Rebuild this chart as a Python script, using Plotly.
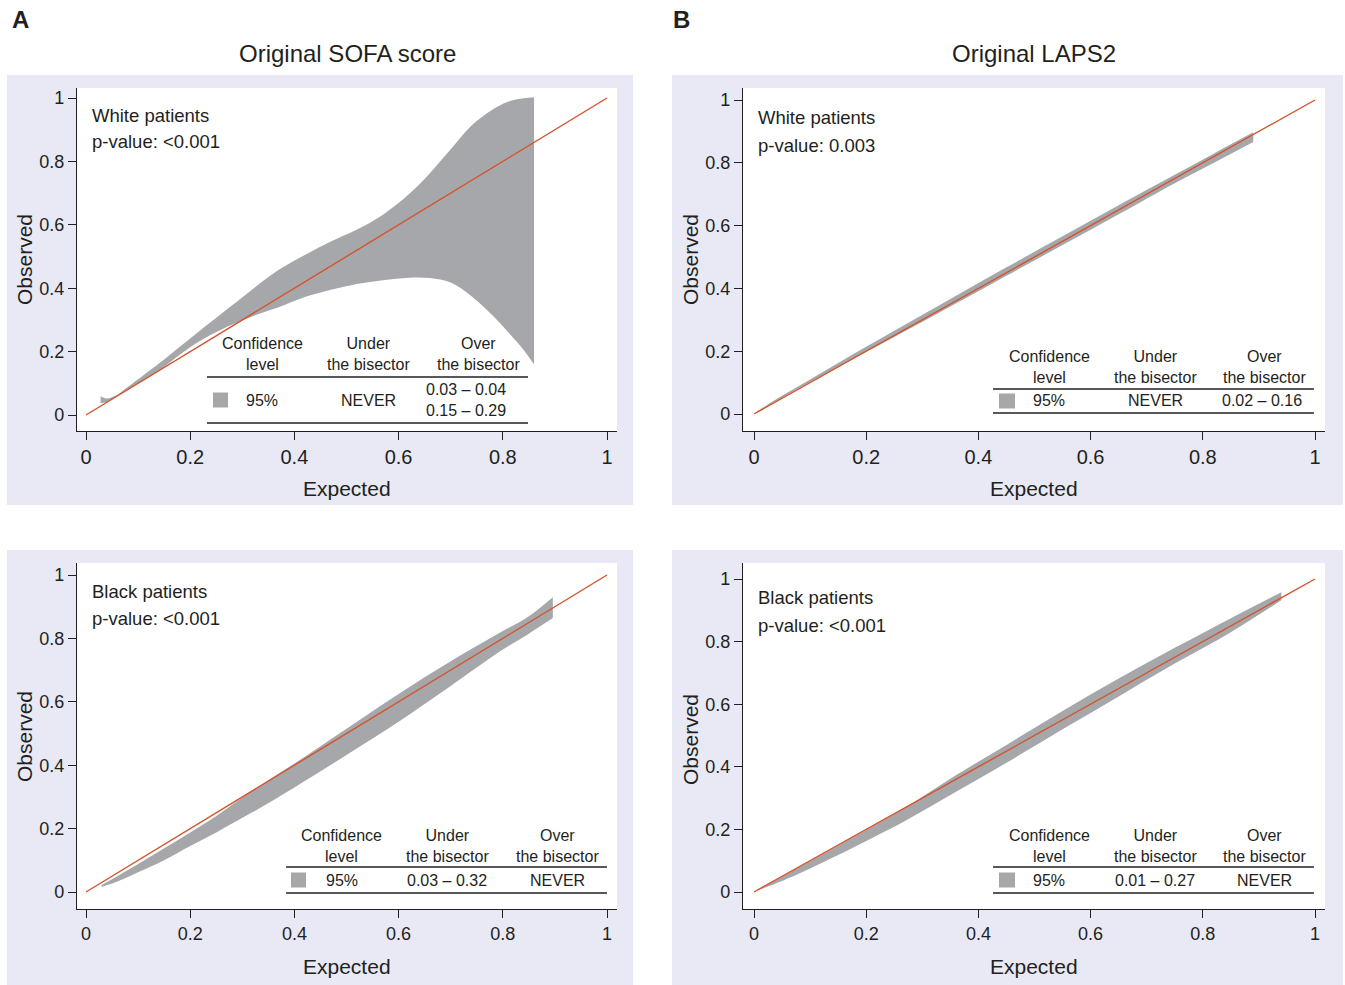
import plotly.graph_objects as go

W, H = 1345, 985
FONT = "Liberation Sans, Arial, Helvetica, sans-serif"
TXT = "#231f20"
LAV = "#e8e9f5"
BAND = "#a6a7aa"
LINE = "#d4532a"

# ---------------- data ----------------
tick_vals = [0, 0.2, 0.4, 0.6, 0.8, 1]
tick_text = ["0", "0.2", "0.4", "0.6", "0.8", "1"]
bisector_x = [0, 1]
bisector_y = [0, 1]

# A top: Original SOFA score, White patients
sofa_white_x = [0.028, 0.04, 0.06, 0.08, 0.10, 0.13, 0.15, 0.18, 0.21, 0.25, 0.29, 0.33, 0.37,
                0.42, 0.47, 0.52, 0.57, 0.62, 0.66, 0.70, 0.74, 0.78, 0.81, 0.84, 0.86]
sofa_white_upper = [0.059, 0.052, 0.064, 0.088, 0.113, 0.150, 0.175, 0.215, 0.255, 0.307, 0.358, 0.410, 0.458,
                    0.505, 0.547, 0.585, 0.632, 0.697, 0.763, 0.838, 0.913, 0.963, 0.988, 0.999, 1.002]
sofa_white_lower = [0.038, 0.041, 0.060, 0.080, 0.100, 0.130, 0.152, 0.190, 0.225, 0.262, 0.292, 0.318, 0.340,
                    0.372, 0.395, 0.413, 0.425, 0.433, 0.432, 0.418, 0.375, 0.315, 0.262, 0.205, 0.159]

# B top: Original LAPS2, White patients
laps_white_x = [0.005, 0.02, 0.05, 0.10, 0.16, 0.25, 0.35, 0.45, 0.55, 0.65, 0.75, 0.82, 0.89]
laps_white_upper = [0.008, 0.025, 0.058, 0.110, 0.173, 0.265, 0.366, 0.467, 0.566, 0.665, 0.762, 0.830, 0.897]
laps_white_lower = [0.005, 0.020, 0.052, 0.102, 0.160, 0.245, 0.342, 0.440, 0.538, 0.636, 0.735, 0.800, 0.866]

# A bottom: Original SOFA score, Black patients
sofa_black_x = [0.03, 0.06, 0.10, 0.15, 0.20, 0.25, 0.32, 0.40, 0.50, 0.60, 0.70, 0.80, 0.85, 0.896]
sofa_black_upper = [0.022, 0.050, 0.088, 0.138, 0.188, 0.240, 0.320, 0.405, 0.515, 0.625, 0.728, 0.823, 0.870, 0.930]
sofa_black_lower = [0.016, 0.033, 0.062, 0.100, 0.145, 0.188, 0.252, 0.330, 0.432, 0.537, 0.650, 0.765, 0.815, 0.864]

# B bottom: Original LAPS2, Black patients
laps_black_x = [0.005, 0.05, 0.10, 0.15, 0.20, 0.27, 0.35, 0.45, 0.55, 0.65, 0.75, 0.85, 0.94]
laps_black_upper = [0.005, 0.049, 0.098, 0.148, 0.198, 0.270, 0.362, 0.470, 0.578, 0.682, 0.780, 0.875, 0.958]
laps_black_lower = [0.004, 0.035, 0.075, 0.118, 0.163, 0.228, 0.310, 0.413, 0.520, 0.625, 0.730, 0.830, 0.932]

# ---------------- layout helpers ----------------
def px(x):
    return x / W

def py(y):
    return 1 - y / H

panels = [
    dict(ax="", box=(77, 88, 617, 431), xz=86, xs=521, yz=415, ys=317,
         band=(sofa_white_x, sofa_white_upper, sofa_white_lower), xfs=20),
    dict(ax="2", box=(743, 88, 1325, 431), xz=754, xs=561, yz=414, ys=314,
         band=(laps_white_x, laps_white_upper, laps_white_lower), xfs=20),
    dict(ax="3", box=(77, 563, 617, 909), xz=86, xs=521, yz=892, ys=317,
         band=(sofa_black_x, sofa_black_upper, sofa_black_lower), xfs=18),
    dict(ax="4", box=(743, 563, 1325, 909), xz=754, xs=561, yz=892, ys=313,
         band=(laps_black_x, laps_black_upper, laps_black_lower), xfs=18),
]

fig = go.Figure()
layout = dict(width=W, height=H, margin=dict(l=0, r=0, t=0, b=0),
              paper_bgcolor="white", plot_bgcolor="rgba(0,0,0,0)", showlegend=False)

for p in panels:
    x0, y0, x1, y1 = p["box"]
    xr = [(x0 - p["xz"]) / p["xs"], (x1 - p["xz"]) / p["xs"]]
    yr = [(p["yz"] - y1) / p["ys"], (p["yz"] - y0) / p["ys"]]
    common = dict(showline=True, linecolor=TXT, linewidth=1.2, ticks="outside", ticklen=8,
                  tickwidth=1.2, tickcolor=TXT, showgrid=False, zeroline=False,
                  tickvals=tick_vals, ticktext=tick_text, fixedrange=True)
    layout["xaxis" + p["ax"]] = dict(common, domain=[px(x0), px(x1)], range=xr,
                                     anchor="y" + p["ax"],
                                     tickfont=dict(family=FONT, size=p["xfs"], color=TXT))
    layout["yaxis" + p["ax"]] = dict(common, domain=[py(y1), py(y0)], range=yr,
                                     anchor="x" + p["ax"],
                                     tickfont=dict(family=FONT, size=18, color=TXT))
    bx, bu, bl = p["band"]
    xa, ya = "x" + p["ax"], "y" + p["ax"]
    fig.add_trace(go.Scatter(x=bx, y=bl, mode="lines", line=dict(width=0, color=BAND, shape="spline"),
                             xaxis=xa, yaxis=ya, hoverinfo="skip"))
    fig.add_trace(go.Scatter(x=bx, y=bu, mode="lines", line=dict(width=0, color=BAND, shape="spline"),
                             fill="tonexty", fillcolor=BAND, xaxis=xa, yaxis=ya, hoverinfo="skip"))
    fig.add_trace(go.Scatter(x=bisector_x, y=bisector_y, mode="lines",
                             line=dict(width=1.4, color=LINE), xaxis=xa, yaxis=ya, hoverinfo="skip"))

# ---------------- shapes ----------------
shapes = []
bg_boxes = [(7, 75, 633, 505), (672, 75, 1343, 505), (7, 550, 633, 985), (672, 550, 1343, 985)]
for (a, b, c, d) in bg_boxes:
    shapes.append(dict(type="rect", xref="paper", yref="paper", x0=px(a), x1=px(c), y0=py(d), y1=py(b),
                       fillcolor=LAV, line=dict(width=0), layer="below"))
for p in panels:
    x0, y0, x1, y1 = p["box"]
    shapes.append(dict(type="rect", xref="paper", yref="paper", x0=px(x0), x1=px(x1), y0=py(y1), y1=py(y0),
                       fillcolor="white", line=dict(width=0), layer="below"))

annotations = []

def text(t, x, y, size=16, xanchor="center", bold=False, angle=0):
    annotations.append(dict(text=("<b>%s</b>" % t) if bold else t, x=px(x), y=py(y),
                            xref="paper", yref="paper", showarrow=False,
                            xanchor=xanchor, yanchor="middle", textangle=angle,
                            font=dict(family=FONT, size=size, color=TXT)))

def hline(x0, x1, y):
    shapes.append(dict(type="line", xref="paper", yref="paper", x0=px(x0), x1=px(x1), y0=py(y), y1=py(y),
                       line=dict(color=TXT, width=1.5)))

def swatch(x0, x1, y0, y1):
    shapes.append(dict(type="rect", xref="paper", yref="paper", x0=px(x0), x1=px(x1), y0=py(y1), y1=py(y0),
                       fillcolor=BAND, line=dict(width=0)))

# titles
text("A", 20, 20, size=24, bold=True)
text("B", 681, 20, size=24, bold=True)
text("Original SOFA score", 347, 54, size=24)
text("Original LAPS2", 1034, 54, size=24)

# group labels
text("White patients", 90, 115, size=18.5, xanchor="left")
text("p-value: <0.001", 90, 141, size=18.5, xanchor="left")
text("White patients", 756, 117, size=18.5, xanchor="left")
text("p-value: 0.003", 756, 145, size=18.5, xanchor="left")
text("Black patients", 90, 591, size=18.5, xanchor="left")
text("p-value: <0.001", 90, 618, size=18.5, xanchor="left")
text("Black patients", 756, 597, size=18.5, xanchor="left")
text("p-value: <0.001", 756, 625, size=18.5, xanchor="left")

# axis titles
for (ox, oy) in [(24, 260), (690, 260), (24, 737), (690, 740)]:
    text("Observed", ox, oy, size=21, angle=-90)
for (ex, ey) in [(347, 488), (1034, 488), (347, 966), (1034, 966)]:
    text("Expected", ex, ey, size=21)

# tables
tables = [
    dict(hy=354.5, cols=(262, 368, 478), r1=377, r2=423, rx=(207, 528), ry=400,
         sw=(213, 228), under="NEVER", over="0.03 – 0.04<br>0.15 – 0.29", overx=466),
    dict(hy=366.5, cols=(1049, 1155, 1264), r1=389, r2=413, rx=(993, 1314), ry=401,
         sw=(999, 1015), under="NEVER", over="0.02 – 0.16", overx=1262),
    dict(hy=845.5, cols=(342, 447, 557), r1=867, r2=893, rx=(286, 607), ry=880,
         sw=(291, 306), under="0.03 – 0.32", over="NEVER", overx=557),
    dict(hy=845.5, cols=(1049, 1155, 1264), r1=867, r2=893, rx=(993, 1314), ry=880,
         sw=(999, 1015), under="0.01 – 0.27", over="NEVER", overx=1264),
]
for t in tables:
    c1, c2, c3 = t["cols"]
    text("Confidence<br>level", c1, t["hy"])
    text("Under<br>the bisector", c2, t["hy"])
    text("Over<br>the bisector", c3, t["hy"])
    hline(t["rx"][0], t["rx"][1], t["r1"])
    hline(t["rx"][0], t["rx"][1], t["r2"])
    swatch(t["sw"][0], t["sw"][1], t["ry"] - 7.5, t["ry"] + 7.5)
    text("95%", c1, t["ry"])
    text(t["under"], c2, t["ry"])
    text(t["over"], t["overx"], t["ry"])

layout["shapes"] = shapes
layout["annotations"] = annotations
fig.update_layout(**layout)
fig.write_html("out.html", config={"displayModeBar": False},
               post_script="document.body.style.margin='0';document.documentElement.style.overflow='hidden';")
